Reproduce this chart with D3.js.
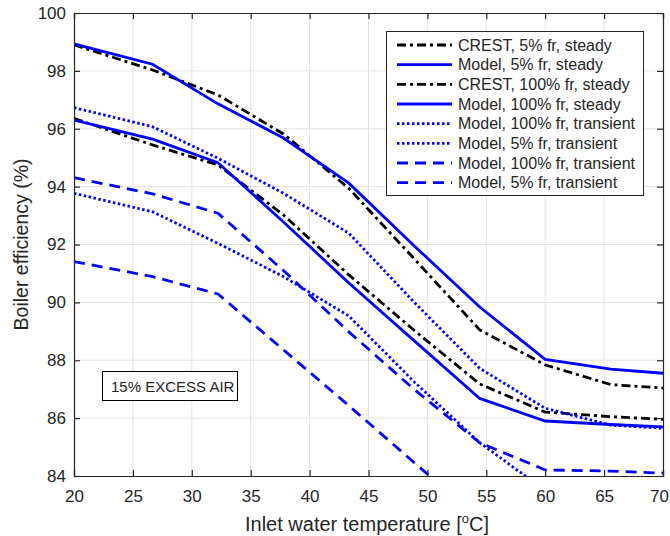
<!DOCTYPE html>
<html>
<head>
<meta charset="utf-8">
<script src="https://cdn.jsdelivr.net/npm/d3@7"></script>
<style>
  body { margin: 0; background: #fff; }
  svg text { font-family: "Liberation Sans", Arial, sans-serif; fill: #262626; }
</style>
</head>
<body>
<svg id="main" width="670" height="536"></svg>
<script>
// inlet water temperature [C] (80..150 F steps plus the end points)
var tempC = [20, 26.67, 32.22, 37.78, 43.33, 48.89, 54.44, 60, 65.56, 70];

var crest5Steady = [98.9, 98.03, 97.17, 95.82, 93.94, 91.5, 89.05, 87.84, 87.16, 87.04];
var model5Steady = [98.93, 98.23, 96.86, 95.68, 94.12, 91.95, 89.84, 88.03, 87.69, 87.55];
var crest100Steady = [96.36, 95.44, 94.75, 93.02, 90.95, 89.03, 87.18, 86.21, 86.05, 85.96];
var model100Steady = [96.3, 95.64, 94.83, 92.78, 90.67, 88.67, 86.68, 85.9, 85.78, 85.7];
var model100TransDot = [96.73, 96.07, 94.98, 93.77, 92.39, 90.0, 87.72, 86.34, 85.76, 85.65];
var model5TransDot = [93.77, 93.13, 92.04, 90.89, 89.53, 87.25, 85.15, 83.5];
var model100TransDash = [94.31, 93.75, 93.08, 91.1, 88.98, 86.99, 85.15, 84.21, 84.17, 84.1];
var model5TransDash = [91.41, 90.89, 90.29, 88.36, 86.43, 84.46, 82.5];

var xTicks = [20, 25, 30, 35, 40, 45, 50, 55, 60, 65, 70];
var yTicks = [84, 86, 88, 90, 92, 94, 96, 98, 100];

var series = [
  { name: "CREST, 5% fr, steady", values: crest5Steady, color: "#000", dash: "9,4,3,4" },
  { name: "Model, 5% fr, steady", values: model5Steady, color: "#0000ff", dash: null },
  { name: "CREST, 100% fr, steady", values: crest100Steady, color: "#000", dash: "9,4,3,4" },
  { name: "Model, 100% fr, steady", values: model100Steady, color: "#0000ff", dash: null },
  { name: "Model, 100% fr, transient", values: model100TransDot, color: "#0000ff", dash: "2.5,2.5" },
  { name: "Model, 5% fr, transient", values: model5TransDot, color: "#0000ff", dash: "2.5,2.5" },
  { name: "Model, 100% fr, transient", values: model100TransDash, color: "#0000ff", dash: "11,7" },
  { name: "Model, 5% fr, transient", values: model5TransDash, color: "#0000ff", dash: "11,7" }
];

var svg = d3.select("#main");
var m = { left: 74, top: 13, right: 663, bottom: 476 };

var x = d3.scaleLinear().domain([20, 70]).range([m.left, m.right]);
var y = d3.scaleLinear().domain([84, 100]).range([m.bottom, m.top]);

// grid
var grid = svg.append("g").attr("stroke", "#e3e3e3").attr("stroke-width", 1);
grid.selectAll("line.gx").data(xTicks.slice(1, -1)).enter().append("line")
  .attr("x1", d => x(d)).attr("x2", d => x(d))
  .attr("y1", m.top).attr("y2", m.bottom);
grid.selectAll("line.gy").data(yTicks.slice(1, -1)).enter().append("line")
  .attr("y1", d => y(d)).attr("y2", d => y(d))
  .attr("x1", m.left).attr("x2", m.right);

// clip to the axes box
svg.append("clipPath").attr("id", "clip").append("rect")
  .attr("x", m.left).attr("y", m.top)
  .attr("width", m.right - m.left).attr("height", m.bottom - m.top);

var line = d3.line()
  .x(function(d, i) { return x(tempC[i]); })
  .y(function(d) { return y(d); });

svg.append("g").attr("clip-path", "url(#clip)")
  .selectAll("path")
  .data(series)
  .enter()
  .append("path")
  .attr("fill", "none")
  .attr("stroke", d => d.color)
  .attr("stroke-width", 2.8)
  .attr("stroke-dasharray", d => d.dash)
  .attr("d", d => line(d.values));

// axes (ticks inward on all four sides)
var tl = 6;
var ax = svg.append("g");
var xAxisG = ax.append("g").attr("transform", "translate(0," + m.bottom + ")")
  .call(d3.axisBottom(x).tickValues(xTicks).tickSize(-tl).tickPadding(14));
ax.append("g").attr("transform", "translate(0," + m.top + ")")
  .call(d3.axisTop(x).tickValues(xTicks).tickSize(-tl).tickFormat(""));
ax.append("g").attr("transform", "translate(" + m.left + ",0)")
  .call(d3.axisLeft(y).tickValues(yTicks).tickSize(-tl).tickPadding(8));
ax.append("g").attr("transform", "translate(" + m.right + ",0)")
  .call(d3.axisRight(y).tickValues(yTicks).tickSize(-tl).tickFormat(""));
ax.selectAll(".domain").attr("stroke", "#262626").attr("stroke-width", 1.2);
ax.selectAll(".tick line").attr("stroke", "#262626").attr("stroke-width", 1.2);
ax.selectAll(".tick text").attr("font-size", 17).attr("fill", "#262626")
  .style("font-family", "'Liberation Sans', Arial, sans-serif");
// keep the last label inside the window
xAxisG.selectAll(".tick text").filter(d => d === 70).attr("dx", -4);

// axis labels
svg.append("text")
  .attr("transform", "translate(28," + (m.top + m.bottom) / 2 + ") rotate(-90)")
  .attr("text-anchor", "middle")
  .attr("font-size", 19.5)
  .text("Boiler efficiency (%)");

var xl = svg.append("text")
  .attr("x", 367)
  .attr("y", 531)
  .attr("text-anchor", "middle")
  .attr("font-size", 20);
xl.append("tspan").text("Inlet water temperature [");
xl.append("tspan").attr("font-size", 13).attr("dy", -8).text("o");
xl.append("tspan").attr("dy", 8).text("C]");

// annotation box
svg.append("rect")
  .attr("x", 102.5).attr("y", 371.5).attr("width", 135).attr("height", 29)
  .attr("fill", "#fff").attr("stroke", "#000").attr("stroke-width", 1);
svg.append("text").attr("x", 111).attr("y", 391.5)
  .attr("font-size", 15).text("15% EXCESS AIR");

// legend
var lg = svg.append("g");
lg.append("rect")
  .attr("x", 386.5).attr("y", 31.5).attr("width", 257).attr("height", 164)
  .attr("fill", "#fff").attr("stroke", "#262626").attr("stroke-width", 1);
var row = lg.selectAll("g.row").data(series).enter().append("g")
  .attr("transform", (d, i) => "translate(0," + (45 + i * 19.67) + ")");
row.append("line")
  .attr("x1", 397).attr("x2", 452).attr("y1", 0).attr("y2", 0)
  .attr("stroke", d => d.color).attr("stroke-width", 2.8)
  .attr("stroke-dasharray", d => d.dash);
row.append("text")
  .attr("x", 458).attr("y", 5.5)
  .attr("font-size", 16)
  .text(d => d.name);
</script>
</body>
</html>
